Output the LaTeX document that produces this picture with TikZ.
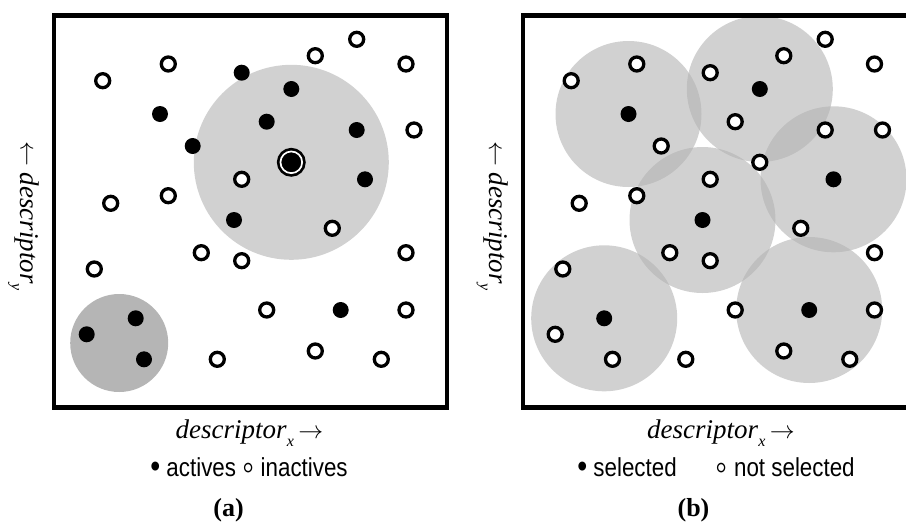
\documentclass[tikz,border=0pt]{standalone}
\usepackage{fontspec}
\setmainfont{Liberation Serif}
\newfontfamily\legendfont[FakeStretch=0.86]{Liberation Sans}
\usetikzlibrary{positioning}

%% point sets of the descriptor space (pixels, y down)
\newcommand{\inactpts}{102.7/80.7, 168.3/64, 315.3/55.7, 356.7/39.3, 406/64, 414/130,
  241.7/179.3, 168.3/195.7, 110.7/203.3, 332.3/228.3, 201.3/252.7, 241.7/260.7,
  94.3/269, 406/252.7, 266.7/310, 406/310, 217.3/359.3, 315.3/351, 381.3/359.3}
\newcommand{\selpts}{160/114, 291.3/89, 365/179.3, 234/220, 135.7/318.3, 340.7/310}
\newcommand{\otherpts}{241.7/72.7, 266.7/121.7, 356.7/130, 192.7/146, 86.7/334.3, 144/359.3}
\newcommand{\lowsub}[1]{\raisebox{-0.33em}{\fontsize{16}{16}\selectfont\textit{#1}}}
\newcommand{\bigmark}[1]{\raisebox{-0.06em}{\fontsize{33}{33}\selectfont #1}}
\newcommand{\openmark}{\raisebox{-0.16em}{\fontsize{40}{40}\selectfont ◦}}

\begin{document}
\begin{tikzpicture}[x=1pt, y=-1pt,
	act/.style={circle, fill=black, inner sep=0pt, minimum size=16pt},
	inact/.style={circle, draw=black, fill=white, line width=3.3pt,
		inner sep=0pt, minimum size=14pt},
	hit/.style={circle, fill=black, draw=black, double=white,
		double distance=1.7pt, line width=2.7pt, inner sep=0pt, minimum size=21.7pt},
	frame/.style={draw, line width=4.5pt},
	axislabel/.style={font=\fontsize{27}{30}\selectfont, inner sep=0pt},
	legend/.style={font=\legendfont\fontsize{26}{30}\selectfont, inner sep=0pt, anchor=base},
	caption/.style={font=\fontsize{26}{30}\selectfont\bfseries, inner sep=0pt, anchor=base}]
	\useasboundingbox (0,0) rectangle (906,523);
	\clip (0,0) rectangle (906,523);
	%% (a) actives and inactives
	\fill [black!18] (291.3,162.3) circle [radius=97.5];
	\fill [black!29] (119.2,343) circle [radius=49];
	\draw [frame] (54,15.5) rectangle (447,407.5);
	\foreach \x/\y [count=\i] in \inactpts
		\node [inact] (a\i) at (\x,\y) {};
	\foreach \x/\y [count=\i] in \selpts
		\node [act] (s\i) at (\x,\y) {};
	\foreach \x/\y [count=\i] in \otherpts
		\node [act] (o\i) at (\x,\y) {};
	\node [hit] (query) at (291.3,162.3) {};
	\node [axislabel, rotate=-90, anchor=base] (ya) at (20.5,216) {$\leftarrow$ \textit{descriptor}\lowsub{y}};
	\node [axislabel, anchor=base] (xa) at (249.5,438) {\textit{descriptor}\lowsub{x}\,$\rightarrow$};
	\node [legend] (lega) at (249,476) {\bigmark{•} actives \openmark{} inactives};
	\node [caption] (capa) at (228.5,516) {(a)};
	%% (b) selected and not selected
	\begin{scope}[xshift=468.5]
		\foreach \x/\y in \selpts
			\fill [black!29.5, fill opacity=0.61] (\x,\y) circle [radius=73];
		\draw [frame] (54.5,15.5) rectangle (447.5,407.5);
		\foreach \x/\y [count=\i] in \inactpts
			\node [inact] (b\i) at (\x,\y) {};
		\foreach \x/\y [count=\i] in \otherpts
			\node [inact] (bo\i) at (\x,\y) {};
		\node [inact] (bq) at (291.3,162.3) {};
		\foreach \x/\y [count=\i] in \selpts
			\node [act] (bs\i) at (\x,\y) {};
		\node [axislabel, rotate=-90, anchor=base] (yb) at (20.5,216) {$\leftarrow$ \textit{descriptor}\lowsub{y}};
	\end{scope}
	\node [axislabel, anchor=base] (xb) at (721,438) {\textit{descriptor}\lowsub{x}\,$\rightarrow$};
	\node [legend] (legb) at (716,476) {\bigmark{•} selected\hspace{1.5em}\openmark{} not selected};
	\node [caption] (capb) at (693.5,516) {(b)};
\end{tikzpicture}
\end{document}
